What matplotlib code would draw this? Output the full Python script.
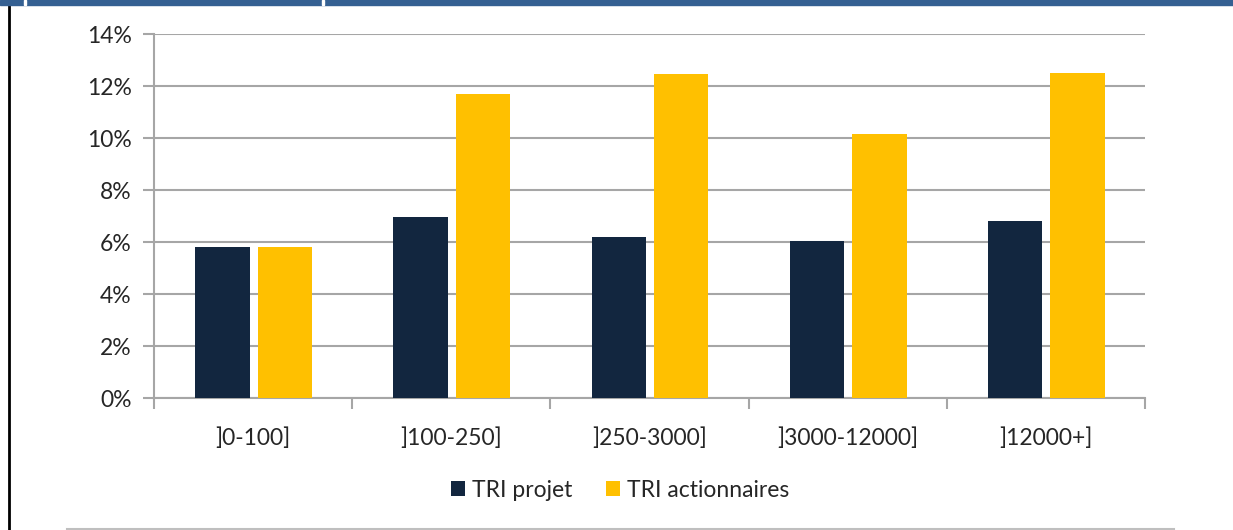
import matplotlib.pyplot as plt
import numpy as np
from matplotlib.lines import Line2D
from matplotlib.patches import Rectangle

categories = [']0-100]', ']100-250]', ']250-3000]', ']3000-12000]', ']12000+]']
tri_projet = [5.8, 6.95, 6.2, 6.05, 6.8]
tri_actionnaires = [5.8, 11.7, 12.45, 10.15, 12.5]
yticks = [0, 2, 4, 6, 8, 10, 12, 14]

navy = '#12263f'
gold = '#ffc000'
grid_grey = '#a6a6a6'

plt.rcParams['font.family'] = ['Lato', 'DejaVu Sans']

fig = plt.figure(figsize=(12.33, 5.30), dpi=100)
ax = fig.add_axes([0.1249, 0.249, 0.8037, 0.6868])

x = np.arange(len(categories))
w = 0.275
ax.bar(x - 0.155, tri_projet, w, color=navy, label='TRI projet', zorder=3)
ax.bar(x + 0.16, tri_actionnaires, w, color=gold, label='TRI actionnaires', zorder=3)

ax.set_xlim(-0.5, len(categories) - 0.5)
ax.set_ylim(0, 14)
ax.set_yticks(yticks)
ax.set_yticklabels(['%d%%' % v for v in yticks])
ax.yaxis.grid(True, color=grid_grey, linewidth=1.5, zorder=0)

# category labels in the middle, tick marks on the boundaries
ax.set_xticks(x)
ax.set_xticklabels(categories)
ax.set_xticks(np.arange(-0.5, len(categories)), minor=True)
ax.tick_params(axis='x', which='major', length=0, pad=21)
ax.tick_params(axis='x', which='minor', length=8, width=1.5, color=grid_grey)
ax.tick_params(axis='y', length=8, width=1.5, color=grid_grey, pad=8)
ax.tick_params(labelsize=16.5, labelcolor='#262626')

for s in ['top', 'right']:
    ax.spines[s].set_visible(False)
for s in ['left', 'bottom']:
    ax.spines[s].set_color(grid_grey)
    ax.spines[s].set_linewidth(1.5)

leg = fig.legend(loc='center', bbox_to_anchor=(0.503, 0.075), ncol=2, frameon=False,
                 fontsize=16.5, handlelength=0.6, handleheight=0.6, handletextpad=0.3,
                 columnspacing=1.5)
for t in leg.get_texts():
    t.set_color('#262626')

# page decoration around the chart
fig.patches.append(Rectangle((0, 525 / 530), 1, 5 / 530, transform=fig.transFigure,
                             color='#356092', zorder=5))
for gx in [24, 322]:
    fig.patches.append(Rectangle((gx / 1233, 525 / 530), 2 / 1233, 5 / 530,
                                 transform=fig.transFigure, color='white', zorder=6))
fig.lines.append(Line2D([8.5 / 1233, 8.5 / 1233], [0, 1], transform=fig.transFigure,
                        color='black', linewidth=2))
fig.lines.append(Line2D([67 / 1233, 1174 / 1233], [0.8 / 530, 0.8 / 530],
                        transform=fig.transFigure, color='#bfbfbf', linewidth=1.5))

fig.savefig('out.png', dpi=100)
